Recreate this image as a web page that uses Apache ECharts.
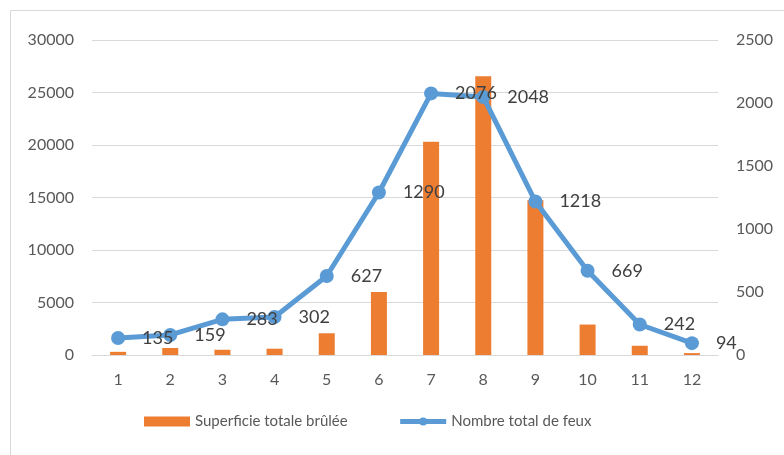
<!DOCTYPE html>
<html>
<head>
<meta charset="utf-8">
<script src="https://cdn.jsdelivr.net/npm/echarts@6/dist/echarts.min.js"></script>
<style>
  html, body { margin: 0; padding: 0; background: #fff; }
  #chart { width: 784px; height: 455px; }
</style>
</head>
<body>
<div id="chart"></div>
<script>
// Monthly fire statistics: burned area (bars, left axis) and number of fires (line, right axis)
const months = ['1', '2', '3', '4', '5', '6', '7', '8', '9', '10', '11', '12'];
const burnedArea = [300, 670, 500, 600, 2070, 6000, 20300, 26550, 14750, 2900, 880, 180];
const fireCount = [135, 159, 283, 302, 627, 1290, 2076, 2048, 1218, 669, 242, 94];
const leftTicks = { min: 0, max: 30000, interval: 5000 };
const rightTicks = { min: 0, max: 2500, interval: 500 };

const textColor = '#595959';
const gridColor = '#d9d9d9';
const font = 'Lato, "Open Sans", "Liberation Sans", sans-serif';
const plain = v => String(v);

const chart = echarts.init(document.getElementById('chart'), null, { renderer: 'canvas' });

chart.setOption({
  animation: false,
  backgroundColor: '#fff',
  textStyle: { fontFamily: font },
  graphic: [
    { type: 'line', shape: { x1: 10.5, y1: 10.5, x2: 784, y2: 10.5 }, style: { stroke: gridColor, lineWidth: 1 } },
    { type: 'line', shape: { x1: 10.5, y1: 10.5, x2: 10.5, y2: 455 }, style: { stroke: gridColor, lineWidth: 1 } }
  ],
  grid: { left: 92, right: 66, top: 40, bottom: 100, containLabel: false },
  legend: {
    top: 409,
    left: 139,
    itemGap: 50,
    itemWidth: 46,
    itemHeight: 10,
    textStyle: { color: textColor, fontSize: 15, fontFamily: font },
    data: [
      { name: 'Superficie totale brûlée', icon: 'rect' },
      { name: 'Nombre total de feux', lineStyle: { width: 5 } }
    ]
  },
  xAxis: {
    type: 'category',
    data: months,
    axisLine: { lineStyle: { color: gridColor, width: 1 } },
    axisTick: { show: false },
    axisLabel: { color: textColor, fontSize: 16, margin: 17, fontFamily: font }
  },
  yAxis: [
    {
      type: 'value',
      min: leftTicks.min, max: leftTicks.max, interval: leftTicks.interval,
      axisLine: { show: false },
      axisTick: { show: false },
      axisLabel: { color: textColor, fontSize: 16, margin: 18, fontFamily: font, formatter: plain },
      splitLine: { lineStyle: { color: gridColor, width: 1 } }
    },
    {
      type: 'value',
      min: rightTicks.min, max: rightTicks.max, interval: rightTicks.interval,
      axisLine: { show: false },
      axisTick: { show: false },
      axisLabel: { color: textColor, fontSize: 16, margin: 18, fontFamily: font, formatter: plain },
      splitLine: { show: false }
    }
  ],
  series: [
    {
      name: 'Superficie totale brûlée',
      type: 'bar',
      yAxisIndex: 0,
      data: burnedArea,
      barWidth: 16,
      itemStyle: { color: '#ED7D31' }
    },
    {
      name: 'Nombre total de feux',
      type: 'line',
      yAxisIndex: 1,
      data: fireCount,
      symbol: 'circle',
      symbolSize: 14,
      lineStyle: { color: '#5B9BD5', width: 5 },
      itemStyle: { color: '#5B9BD5' },
      label: {
        show: true,
        position: 'right',
        distance: 17,
        color: '#404040',
        fontSize: 18,
        fontFamily: font
      },
      z: 3
    }
  ]
});
</script>
</body>
</html>
